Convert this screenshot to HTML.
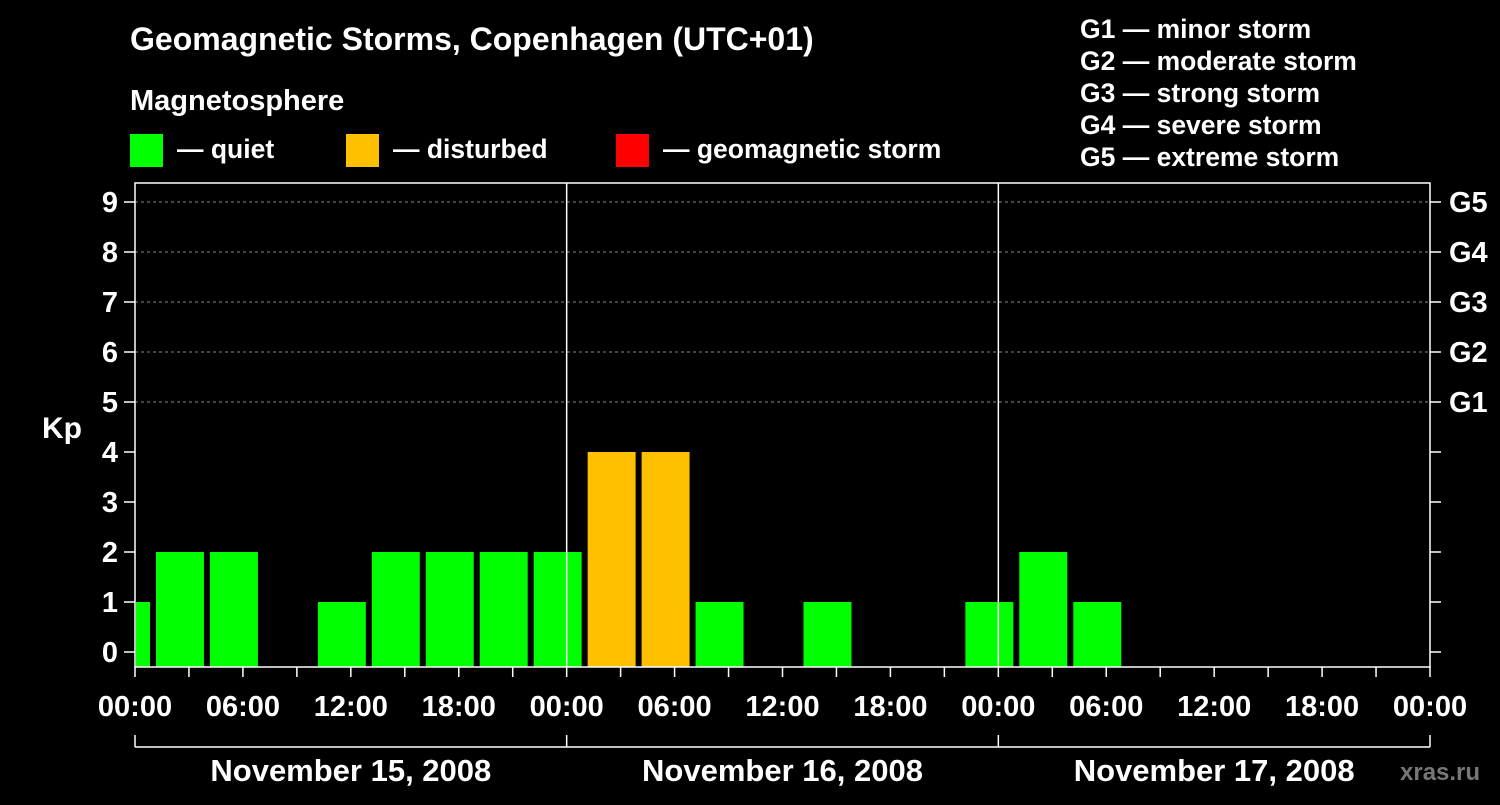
<!DOCTYPE html>
<html><head><meta charset="utf-8"><style>
html,body{margin:0;padding:0;background:#000;}
svg text{font-family:"Liberation Sans",Arial,sans-serif;font-weight:bold;fill:#fff;}
</style></head><body>
<svg id="chart" width="1500" height="800" xmlns="http://www.w3.org/2000/svg">
<rect width="1500" height="800" fill="#000"/>
<text x="130" y="50" font-size="32">Geomagnetic Storms, Copenhagen (UTC+01)</text>
<text x="130" y="110" font-size="29">Magnetosphere</text>
<rect x="130" y="134" width="33" height="33" fill="#00ff00"/>
<text x="177" y="158" font-size="26.5">— quiet</text>
<rect x="346" y="134" width="33" height="33" fill="#ffc000"/>
<text x="393" y="158" font-size="26.5">— disturbed</text>
<rect x="616" y="134" width="33" height="33" fill="#ff0000"/>
<text x="663" y="158" font-size="26.5">— geomagnetic storm</text>
<g font-size="26.5">
<text x="1080" y="38">G1 — minor storm</text>
<text x="1080" y="70">G2 — moderate storm</text>
<text x="1080" y="102">G3 — strong storm</text>
<text x="1080" y="134">G4 — severe storm</text>
<text x="1080" y="166">G5 — extreme storm</text>
</g>
<text x="42" y="438" font-size="30">Kp</text>
<text x="1400" y="780" font-size="24" style="fill:#777">xras.ru</text>
<g id="plot"></g>
</svg>
<script>
const kpValues = [1,2,2,0,1,2,2,2,2,4,4,1,0,1,0,0,1,2,1];
const yTicks = [0,1,2,3,4,5,6,7,8,9];
const gLabels = ["G1","G2","G3","G4","G5"];
const gLevels = [5,6,7,8,9];
const xTickLabels = ["00:00","06:00","12:00","18:00","00:00","06:00","12:00","18:00","00:00","06:00","12:00","18:00","00:00"];
const dayLabels = ["November 15, 2008","November 16, 2008","November 17, 2008"];
const firstBinStartHour = -2;

const NS="http://www.w3.org/2000/svg";
const g=document.getElementById('plot');
const X0=135,X1=1430,PX_H=(X1-X0)/72;
const Y0=652,PX_K=50,BOTTOM=667,TOP=183;
const xs=h=>X0+h*PX_H, ys=k=>Y0-k*PX_K;
function mk(t,a,parent){const e=document.createElementNS(NS,t);for(const k in a)e.setAttribute(k,a[k]);(parent||g).appendChild(e);return e;}

gLevels.forEach(k=>{
  const l=mk('line',{x1:X0,x2:X1,y1:ys(k),y2:ys(k),stroke:'#888','stroke-dasharray':'3,3','stroke-width':1});
  
  
});
kpValues.forEach((v,i)=>{
  if(v<=0)return;
  let h0=firstBinStartHour+i*3,h1=h0+3;
  let x0=Math.max(xs(h0)+3,X0+1),x1=Math.min(xs(h1)-3,X1);
  const col=v>=5?'#ff0000':(v>=4?'#ffc000':'#00ff00');
  const r=mk('rect',{x:x0,y:ys(v),width:x1-x0,height:BOTTOM-ys(v),fill:col});
  
  
});
const fr=mk('rect',{x:X0,y:TOP,width:X1-X0,height:BOTTOM-TOP,fill:'none',stroke:'#fff','stroke-width':1.5});


for(let d=1;d<3;d++){
  const l=mk('line',{x1:xs(d*24),x2:xs(d*24),y1:TOP,y2:BOTTOM,stroke:'#fff','stroke-width':1.5});
  
  
}
yTicks.forEach(k=>{
  mk('line',{x1:124,x2:X0,y1:ys(k),y2:ys(k),stroke:'#fff','stroke-width':1.5});
  mk('line',{x1:X1,x2:1441,y1:ys(k),y2:ys(k),stroke:'#fff','stroke-width':1.5});
  const t=mk('text',{x:118,y:ys(k)+10,'font-size':29,'text-anchor':'end'});
  t.textContent=k;
  
  
});
gLabels.forEach((s,i)=>{
  const t=mk('text',{x:1449,y:ys(gLevels[i])+10,'font-size':29});
  t.textContent=s;
  
  
});
for(let h=0;h<=72;h+=3){
  mk('line',{x1:xs(h),x2:xs(h),y1:BOTTOM,y2:BOTTOM+10,stroke:'#fff','stroke-width':1.5});
}
xTickLabels.forEach((s,i)=>{
  const t=mk('text',{x:xs(i*6),y:716,'font-size':29,'text-anchor':'middle'});
  t.textContent=s;
  
  
});
mk('line',{x1:X0,x2:X1,y1:747,y2:747,stroke:'#fff','stroke-width':1.5});
for(let d=0;d<=3;d++) mk('line',{x1:xs(d*24),x2:xs(d*24),y1:735,y2:747,stroke:'#fff','stroke-width':1.5});
dayLabels.forEach((s,i)=>{
  const t=mk('text',{x:xs(i*24+12),y:781,'font-size':31,'text-anchor':'middle'});
  t.textContent=s;
  
  
});
</script>
</body></html>
